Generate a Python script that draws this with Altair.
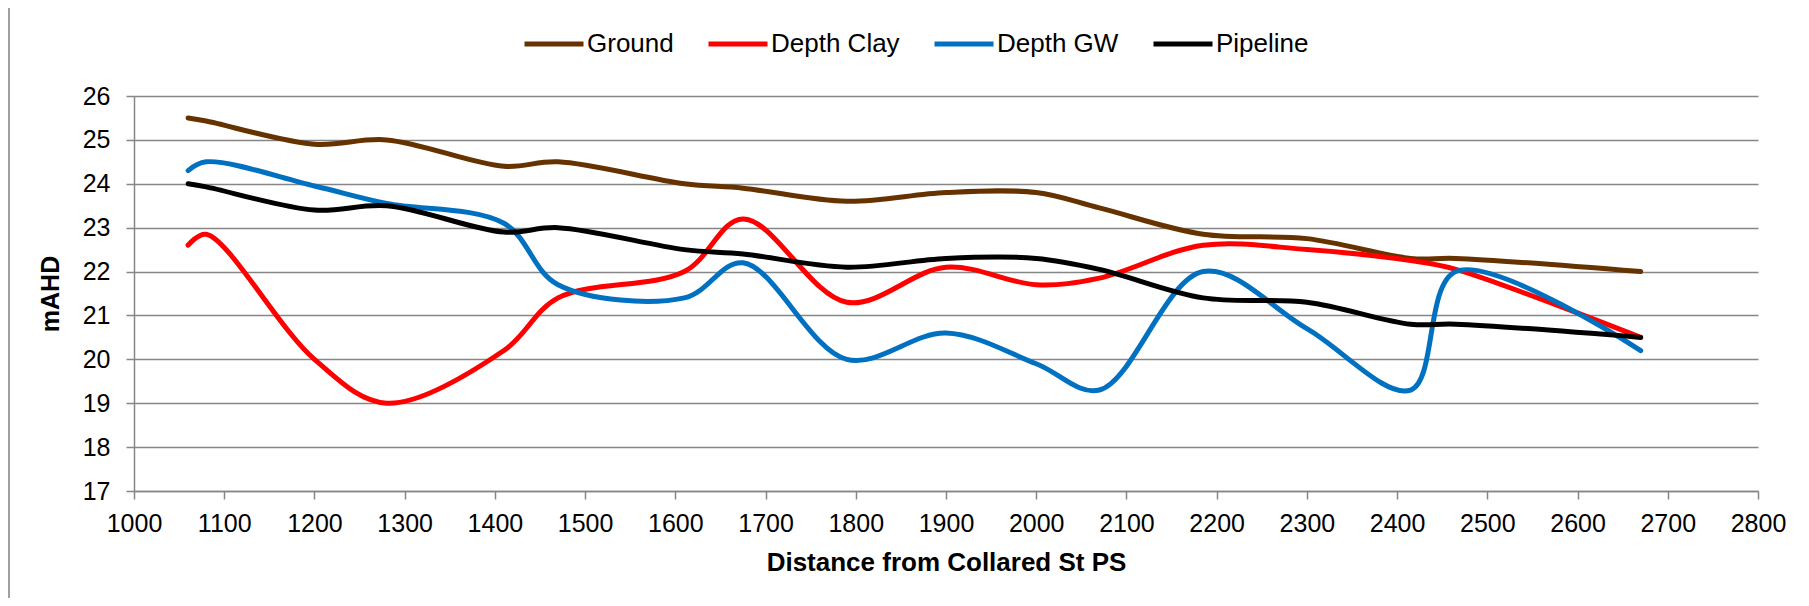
import altair as alt
import pandas as pd

# ---- data ----
distance = [1060, 1080, 1200, 1280, 1410, 1470, 1610, 1675, 1790, 1900, 2000, 2070, 2185, 2300, 2415, 2465, 2670]
ground = [25.5, 25.43, 24.9, 25.0, 24.4, 24.5, 24.0, 23.9, 23.6, 23.8, 23.8, 23.45, 22.85, 22.75, 22.3, 22.3, 22.0]
depth_clay = [22.6, 22.85, 20.0, 19.0, 20.2, 21.4, 22.0, 23.2, 21.3, 22.1, 21.7, 21.85, 22.6, 22.5, 22.25, 22.05, 20.5]
depth_gw = [24.3, 24.5, 23.95, 23.55, 23.1, 21.7, 21.4, 22.2, 20.0, 20.6, 19.9, 19.3, 22.0, 20.7, 19.3, 22.0, 20.2]
pipeline = [24.0, 23.93, 23.4, 23.5, 22.9, 23.0, 22.5, 22.4, 22.1, 22.3, 22.3, 22.05, 21.4, 21.3, 20.8, 20.8, 20.5]

series_names = ["Ground", "Depth Clay", "Depth GW", "Pipeline"]
series_colors = ["#663300", "#FF0000", "#0070C0", "#000000"]
x_ticks = list(range(1000, 2801, 100))
y_ticks = list(range(17, 27))

rows = []
for name, vals in zip(series_names, [ground, depth_clay, depth_gw, pipeline]):
    for d, v in zip(distance, vals):
        rows.append({"Distance": d, "Value": v, "Series": name})
df = pd.DataFrame(rows)

FONT = "Liberation Sans"
W, H = 1624, 395
PAD = {"left": 126, "top": 88, "right": 43, "bottom": 107}
GRID = "#868686"

lines = alt.Chart(df).mark_line(
    interpolate="catmull-rom", strokeWidth=5, strokeCap="round", strokeJoin="round"
).encode(
    x=alt.X("Distance:Q",
            scale=alt.Scale(domain=[1000, 2800], nice=False, zero=False),
            axis=alt.Axis(values=x_ticks, format="d", title="Distance from Collared St PS",
                          grid=False, labelPadding=12, titlePadding=13,
                          labelFontSize=25, titleFontSize=26)),
    y=alt.Y("Value:Q",
            scale=alt.Scale(domain=[17, 26], nice=False, zero=False),
            axis=alt.Axis(values=y_ticks, format="d", title="mAHD", grid=True,
                          labelPadding=16, titlePadding=19,
                          labelFontSize=25, titleFontSize=25)),
    color=alt.Color("Series:N",
                    scale=alt.Scale(domain=series_names, range=series_colors),
                    sort=series_names,
                    legend=alt.Legend(orient="none", legendX=388, legendY=-84,
                                      direction="horizontal", title=None,
                                      symbolType="stroke", symbolSize=3481,
                                      symbolStrokeWidth=5, labelFontSize=26,
                                      labelFont=FONT, labelColor="#000000",
                                      labelOffset=1, columnPadding=24, padding=0)),
)

frame = alt.Chart(pd.DataFrame({"k": [0]})).mark_rect(
    fillOpacity=0, stroke="#a0a0a0", strokeWidth=2
).encode(
    x=alt.value(-125), x2=alt.value(W + 300),
    y=alt.value(-90), y2=alt.value(H + 300),
)

chart = alt.layer(frame, lines).properties(
    width=W, height=H,
    autosize=alt.AutoSizeParams(type="none"),
    padding=PAD,
    background="#ffffff",
).configure_view(
    strokeWidth=0
).configure_axis(
    domainColor=GRID, domainWidth=1.5,
    tickColor=GRID, tickWidth=1.5, tickSize=8,
    gridColor=GRID, gridWidth=1.5,
    labelFont=FONT, labelColor="#000000",
    labelFlush=False, labelOverlap=False,
    titleFont=FONT, titleFontWeight="bold", titleColor="#000000",
)

chart.save("out.html", embed_options={"renderer": "svg", "actions": False})
